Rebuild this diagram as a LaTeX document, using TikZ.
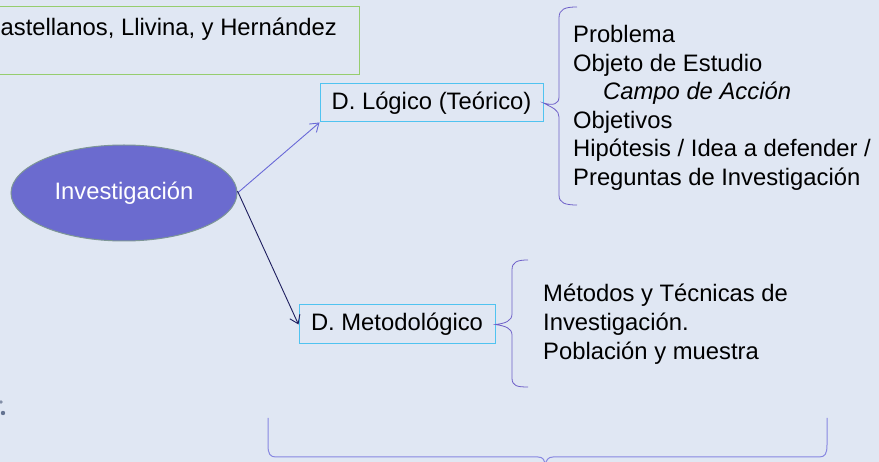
\documentclass[tikz,border=0pt]{standalone}
\usepackage{fontspec}
\setmainfont{Liberation Sans}
\usetikzlibrary{shapes.geometric,arrows.meta}
\definecolor{bgc}{RGB}{224,231,243}
\definecolor{ellfill}{RGB}{107,107,207}
\definecolor{ellline}{RGB}{125,150,150}
\definecolor{boxline}{RGB}{80,195,240}
\definecolor{greenline}{RGB}{150,205,110}
\definecolor{bracec}{RGB}{110,95,200}
\definecolor{bracelight}{RGB}{135,135,225}
\definecolor{arrowa}{RGB}{105,105,215}
\definecolor{arrowb}{RGB}{30,30,95}
\definecolor{dotc}{RGB}{100,115,145}
\tikzset{
  txt/.style={font=\fontsize{23.8}{28.4}\selectfont, inner sep=0pt, anchor=base west, text=black},
  dbox/.style={draw=boxline, line width=1pt, fill=none, minimum height=38pt, inner sep=0pt, font=\fontsize{23.8}{28.4}\selectfont},
  bracestyle/.style={draw=bracec, line width=0.8pt},
  conn/.style={line width=0.9pt, -{Straight Barb[length=8pt,width=11pt]}}
}
\begin{document}
\begin{tikzpicture}[x=1pt,y=-1pt]
\useasboundingbox (0,0) rectangle (879,462);
\clip (0,0) rectangle (879,462);
\fill[bgc] (0,0) rectangle (879,462);

% top-left box
\draw[greenline, line width=1pt] (-20,7) rectangle (359,75);
\node[txt] (auth) at (0.5,36) {astellanos, Llivina, y Hernández};

% ellipse
\node[ellipse, draw=ellline, line width=1pt, fill=ellfill, minimum width=226pt, minimum height=96pt, inner sep=0pt,
      text=white, font=\fontsize{23.8}{28.4}\selectfont] (inv) at (124,193) {Investigación};

% boxes
\node[dbox, minimum width=223pt] (log) at (431.5,103) {D. Lógico (Teórico)};
\node[dbox, minimum width=196pt, minimum height=39pt] (met) at (397,324.5) {D. Metodológico};

% connectors
\draw[conn, arrowa] (inv.east) -- (log.south west);
\draw[conn, arrowb] ([yshift=2pt]inv.east) -- (met.west);

% brace 1
\coordinate (b1tip) at (log.east);
\draw[bracestyle] (577,7) .. controls (565,7) and (559,9) .. (559,18) -- (559,97)
  .. controls (559,104) and (553,106) .. (b1tip)
  .. controls (553,108) and (559,110) .. (559,117) -- (559,195)
  .. controls (559,203) and (565,205) .. (577,205);

% list 1
\node[txt] (l1) at (573,43) {Problema};
\node[txt] (l2) at (573,71.5) {Objeto de Estudio};
\node[txt] (l3) at (603,100) {\itshape Campo de Acción};
\node[txt] (l4) at (573,128.4) {Objetivos};
\node[txt] (l5) at (573,156.8) {Hipótesis / Idea a defender /};
\node[txt] (l6) at (573,185.2) {Preguntas de Investigación};

% brace 2
\coordinate (b2tip) at (met.east);
\draw[bracestyle] (528,260) .. controls (517,260) and (512,262) .. (512,270) -- (512,314)
  .. controls (512,321) and (505,323.5) .. (b2tip)
  .. controls (505,326) and (512,328) .. (512,335) -- (512,378)
  .. controls (512,386) and (517,387) .. (528,387);

% list 2
\node[txt] (m1) at (543,302) {Métodos y Técnicas de};
\node[txt] (m2) at (543,331) {Investigación.};
\node[txt] (m3) at (543,359.5) {Población y muestra};

% bottom brace
\draw[draw=bracelight, line width=1pt] (268,418) -- (268,445)
  .. controls (268,454) and (270,457) .. (276,457) -- (538,457)
  .. controls (543,457) and (545,460) .. (545,466);
\draw[draw=bracelight, line width=1pt] (827,418) -- (827,445)
  .. controls (827,454) and (825,457) .. (819,457) -- (553,457)
  .. controls (548,457) and (546,460) .. (545,466);

% small dots at left edge
\fill[dotc!80] (1,402) circle (1.8);
\fill[dotc] (3,413) circle (2.2);
\end{tikzpicture}
\end{document}
